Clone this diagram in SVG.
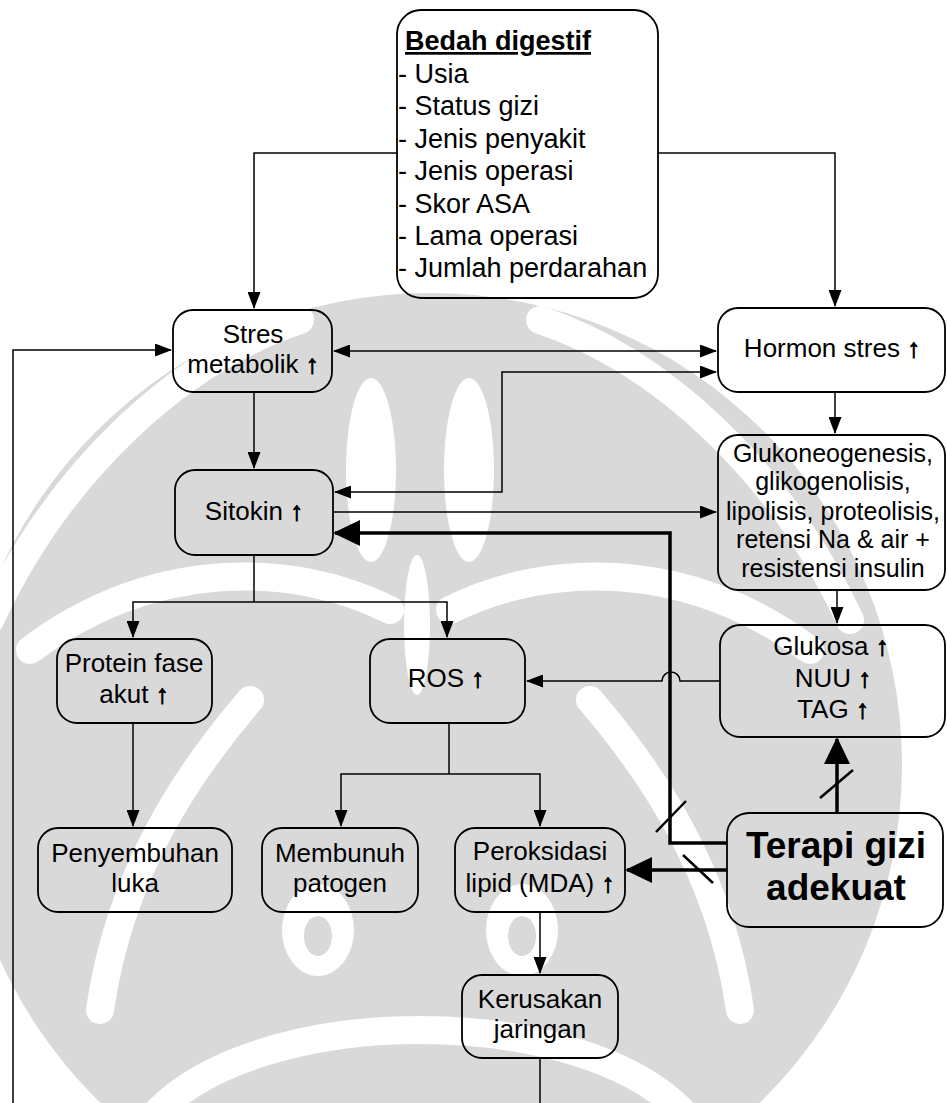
<svg xmlns="http://www.w3.org/2000/svg" width="947" height="1103" viewBox="0 0 947 1103">
<style>
.box{fill:none;stroke:#000;stroke-width:1.8}
.t{font-family:"Liberation Sans",Arial,sans-serif;font-size:26px;fill:#000;text-anchor:middle}
.s{font-size:25px}
.l{font-family:"Liberation Sans",Arial,sans-serif;font-size:27px;fill:#000}
.b{font-weight:bold}
.ar{stroke:#000;stroke-width:0.9}
.ln{fill:none;stroke:#000;stroke-width:1.5}
.tk{fill:none;stroke:#000;stroke-width:3.5}
.sl{stroke:#000;stroke-width:2.5}
.wm{fill:#d9d9d9}
.wb{fill:none;stroke:#fff;stroke-width:28;stroke-linecap:round}
</style>
<defs>
<marker id="ah" viewBox="0 0 17 13" refX="16" refY="6.5" markerWidth="17" markerHeight="13" markerUnits="userSpaceOnUse" orient="auto-start-reverse"><path d="M0,0L17,6.5L0,13z"/></marker>
<marker id="AH" viewBox="0 0 27 26" refX="25" refY="13" markerWidth="27" markerHeight="26" markerUnits="userSpaceOnUse" orient="auto"><path d="M0,0L27,13L0,26z"/></marker>
</defs>
<rect width="947" height="1103" fill="#fff"/>
<g id="watermark">
<circle class="wm" cx="430" cy="765" r="472"/>
<path class="wb" d="M300,320 C180,360 60,470 -10,620"/>
<path class="wb" d="M540,320 C660,360 780,470 850,620"/>
<path class="wb" d="M390,610 C290,560 150,560 30,650"/>
<path class="wb" d="M450,610 C550,560 690,560 810,650"/>
<path class="wb" d="M250,700 C190,770 120,870 100,1010"/>
<path class="wb" d="M590,700 C650,770 720,870 740,1010"/>
<path class="wb" d="M150,1120 C250,1000 590,1000 690,1120"/>
<ellipse cx="371" cy="470" rx="25" ry="92" fill="#fff"/>
<ellipse cx="469" cy="470" rx="25" ry="92" fill="#fff"/>
<ellipse cx="417" cy="625" rx="13" ry="70" fill="#fff"/>
<ellipse cx="318" cy="930" rx="36" ry="46" fill="#fff"/>
<ellipse cx="318" cy="936" rx="14" ry="20" class="wm"/>
<ellipse cx="522" cy="930" rx="36" ry="46" fill="#fff"/>
<ellipse cx="522" cy="936" rx="14" ry="20" class="wm"/>
</g>
<g id="connectors">
<path class="ln" d="M397,153H254V308" marker-end="url(#ah)"/>
<path class="ln" d="M658,153H835V306" marker-end="url(#ah)"/>
<path class="ln" d="M334,351H716" marker-start="url(#ah)" marker-end="url(#ah)"/>
<path class="ln" d="M716,372H502V492H335" marker-start="url(#ah)" marker-end="url(#ah)"/>
<path class="ln" d="M333,512H716" marker-end="url(#ah)"/>
<path class="ln" d="M254,392V468" marker-end="url(#ah)"/>
<path class="ln" d="M835,392V433" marker-end="url(#ah)"/>
<path class="ln" d="M837,590V623" marker-end="url(#ah)"/>
<path class="ln" d="M720,681H680A9,9 0 0 0 662,681H527" marker-end="url(#ah)"/>
<path class="ln" d="M254,555V602"/>
<path class="ln" d="M133,637V602H447V637" marker-start="url(#ah)" marker-end="url(#ah)"/>
<path class="ln" d="M449,723V774"/>
<path class="ln" d="M341,826V774H540V826" marker-start="url(#ah)" marker-end="url(#ah)"/>
<path class="ln" d="M133,723V826" marker-end="url(#ah)"/>
<path class="ln" d="M540,912V973" marker-end="url(#ah)"/>
<path class="ln" d="M540,1058V1103"/>
<path class="ln" d="M13,1103V350H171" marker-end="url(#ah)"/>
<path class="tk" d="M727,843H670V533H335" marker-end="url(#AH)"/>
<path class="tk" d="M727,870H627" marker-end="url(#AH)"/>
<path class="tk" d="M837,813V739" marker-end="url(#AH)"/>
<line class="sl" x1="656" y1="832" x2="686" y2="801"/>
<line class="sl" x1="683" y1="855" x2="713" y2="883"/>
<line class="sl" x1="820" y1="798" x2="853" y2="770"/>
</g>
<g id="bedah">
<rect class="box" x="397" y="10" width="261" height="288" rx="24"/>
<text class="l b" x="405" y="50" text-decoration="underline">Bedah digestif</text>
<text class="l" x="398" y="83">- Usia</text>
<text class="l" x="398" y="115">- Status gizi</text>
<text class="l" x="398" y="148">- Jenis penyakit</text>
<text class="l" x="398" y="180">- Jenis operasi</text>
<text class="l" x="398" y="213">- Skor ASA</text>
<text class="l" x="398" y="245">- Lama operasi</text>
<text class="l" x="398" y="277">- Jumlah perdarahan</text>
</g>
<g id="stres">
<rect class="box" x="173" y="310" width="159" height="82" rx="20"/>
<text class="t" x="253" y="343">Stres</text>
<text class="t" x="253" y="373">metabolik <tspan class="ar">↑</tspan></text>
</g>
<g id="hormon">
<rect class="box" x="718" y="308" width="227" height="84" rx="20"/>
<text class="t" x="832" y="357">Hormon stres <tspan class="ar">↑</tspan></text>
</g>
<g id="sitokin">
<rect class="box" x="175" y="470" width="158" height="85" rx="20"/>
<text class="t" x="254" y="520">Sitokin <tspan class="ar">↑</tspan></text>
</g>
<g id="glukoneogenesis">
<rect class="box" x="718" y="435" width="227" height="155" rx="20"/>
<text class="t s" x="833" y="462">Glukoneogenesis,</text>
<text class="t s" x="833" y="490">glikogenolisis,</text>
<text class="t s" x="833" y="520">lipolisis, proteolisis,</text>
<text class="t s" x="833" y="548">retensi Na &amp; air +</text>
<text class="t s" x="833" y="577">resistensi insulin</text>
</g>
<g id="glukosa">
<rect class="box" x="720" y="625" width="225" height="112" rx="20"/>
<text class="t" x="831" y="655">Glukosa <tspan class="ar">↑</tspan></text>
<text class="t" x="833" y="687">NUU <tspan class="ar">↑</tspan></text>
<text class="t" x="833" y="718">TAG <tspan class="ar">↑</tspan></text>
</g>
<g id="protein">
<rect class="box" x="57" y="639" width="155" height="84" rx="20"/>
<text class="t" x="134" y="672">Protein fase</text>
<text class="t" x="134" y="703">akut <tspan class="ar">↑</tspan></text>
</g>
<g id="ros">
<rect class="box" x="370" y="639" width="155" height="84" rx="20"/>
<text class="t" x="446" y="687">ROS <tspan class="ar">↑</tspan></text>
</g>
<g id="terapi">
<rect class="box" x="727" y="813" width="216" height="114" rx="22"/>
<text class="t b" x="836" y="858" style="font-size:37px">Terapi gizi</text>
<text class="t b" x="836" y="900" style="font-size:37px">adekuat</text>
</g>
<g id="penyembuhan">
<rect class="box" x="38" y="828" width="194" height="84" rx="20"/>
<text class="t" x="135" y="862">Penyembuhan</text>
<text class="t" x="135" y="892">luka</text>
</g>
<g id="membunuh">
<rect class="box" x="262" y="828" width="156" height="84" rx="20"/>
<text class="t" x="340" y="862">Membunuh</text>
<text class="t" x="340" y="892">patogen</text>
</g>
<g id="peroksidasi">
<rect class="box" x="455" y="828" width="170" height="84" rx="20"/>
<text class="t" x="540" y="860">Peroksidasi</text>
<text class="t" x="540" y="892">lipid (MDA) <tspan class="ar">↑</tspan></text>
</g>
<g id="kerusakan">
<rect class="box" x="462" y="975" width="156" height="83" rx="20"/>
<text class="t" x="540" y="1008">Kerusakan</text>
<text class="t" x="540" y="1038">jaringan</text>
</g>
</svg>
